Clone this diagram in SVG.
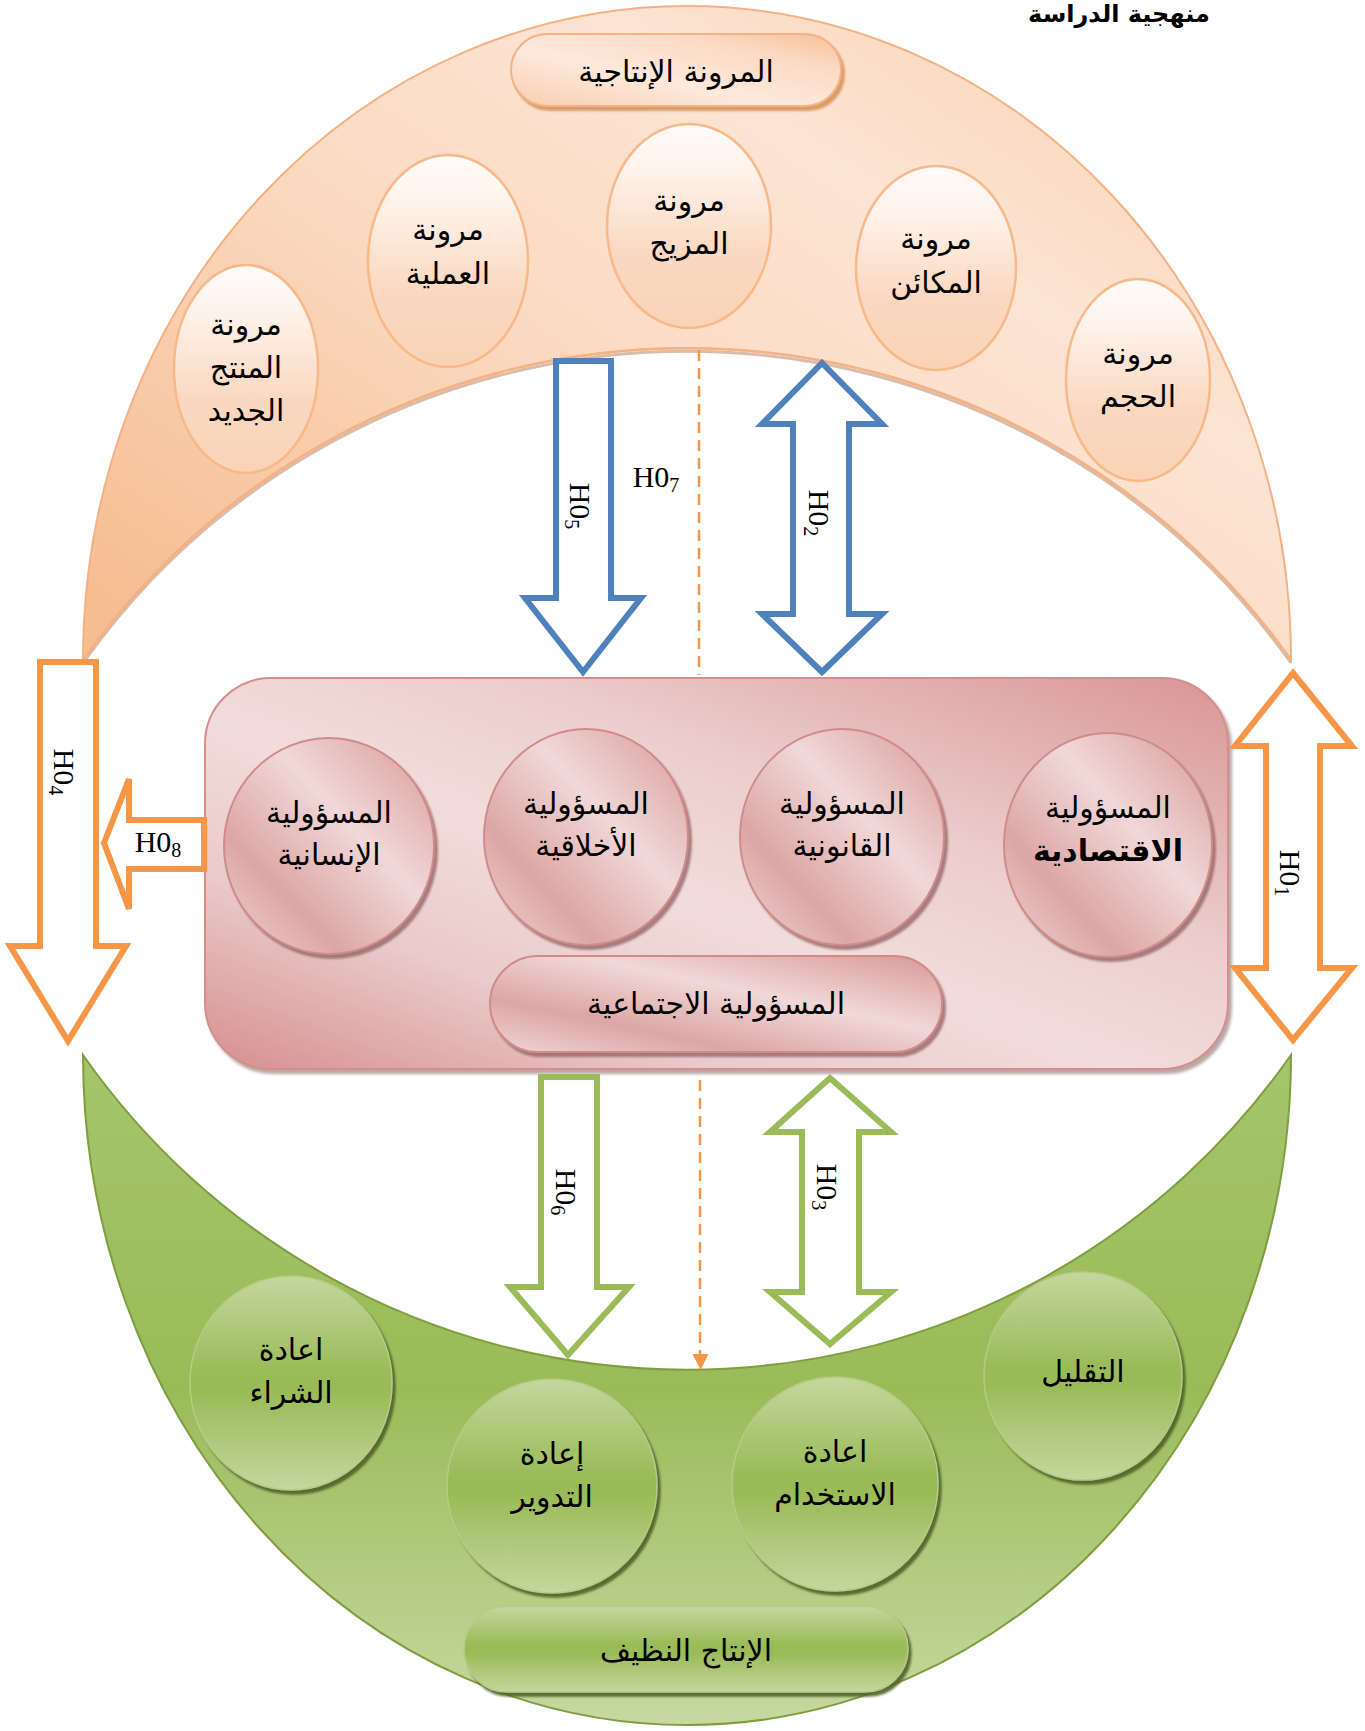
<svg xmlns="http://www.w3.org/2000/svg" width="1365" height="1731" viewBox="0 0 1365 1731">
  <defs>
    <style>
      .ar { font-family: "DejaVu Sans", sans-serif; font-size: 30px; fill: #000; text-anchor: middle; }
      .hl { font-family: "Liberation Serif", "Times New Roman", serif; font-size: 30px; fill: #000; text-anchor: middle; }
      .sub { font-size: 20px; }
      .oval-o { fill: url(#gOval); stroke: #f8b887; stroke-width: 2.5; }
      .disc-p { fill: url(#gDiscP); stroke: #cf8b8a; stroke-width: 2; filter: url(#shP); }
      .disc-g { fill: url(#gDiscG); stroke: #b5cc84; stroke-width: 1.5; filter: url(#shG); }
      .arr-b { fill: #fff; stroke: #4f81bd; stroke-width: 6; stroke-linejoin: miter; }
      .arr-o { fill: #fff; stroke: #f79646; stroke-width: 6; stroke-linejoin: miter; }
      .arr-g { fill: #fff; stroke: #9bbb59; stroke-width: 6; stroke-linejoin: miter; }
      .dash { fill: none; stroke: #f79646; stroke-width: 2.5; stroke-dasharray: 11 7; }
    </style>
    <linearGradient id="gBandTop" x1="0" y1="0.9" x2="1" y2="0.1">
      <stop offset="0" stop-color="#f6bd91"/>
      <stop offset="0.45" stop-color="#fbdbc4"/>
      <stop offset="0.7" stop-color="#fce4d3"/>
      <stop offset="1" stop-color="#f9cfb0"/>
    </linearGradient>
    <linearGradient id="gOval" x1="0" y1="0" x2="0" y2="1">
      <stop offset="0" stop-color="#fffcfa"/>
      <stop offset="0.2" stop-color="#fef4ed"/>
      <stop offset="0.65" stop-color="#fad8c0"/>
      <stop offset="1" stop-color="#f9d3b6"/>
    </linearGradient>
    <linearGradient id="gPillO" x1="0" y1="1" x2="1" y2="0">
      <stop offset="0" stop-color="#f9cdae"/>
      <stop offset="0.4" stop-color="#fde9dc"/>
      <stop offset="0.75" stop-color="#fbdac3"/>
      <stop offset="1" stop-color="#f7bf94"/>
    </linearGradient>
    <linearGradient id="gBox" x1="1" y1="0" x2="0" y2="1">
      <stop offset="0" stop-color="#d99594"/>
      <stop offset="0.35" stop-color="#eccdcd"/>
      <stop offset="0.55" stop-color="#f2dcdb"/>
      <stop offset="0.75" stop-color="#eacaca"/>
      <stop offset="1" stop-color="#d68f8e"/>
    </linearGradient>
    <linearGradient id="gDiscP" x1="1" y1="0" x2="0" y2="1">
      <stop offset="0" stop-color="#d89897"/>
      <stop offset="0.4" stop-color="#f1d8d8"/>
      <stop offset="0.72" stop-color="#dca6a5"/>
      <stop offset="1" stop-color="#f0d6d6"/>
    </linearGradient>
    <linearGradient id="gBandBot" x1="0" y1="0" x2="0" y2="1">
      <stop offset="0" stop-color="#a6c46a"/>
      <stop offset="0.5" stop-color="#9bbb59"/>
      <stop offset="1" stop-color="#c6d9a1"/>
    </linearGradient>
    <linearGradient id="gDiscG" x1="0" y1="0" x2="0" y2="1">
      <stop offset="0" stop-color="#c4d79e"/>
      <stop offset="0.45" stop-color="#9bbb59"/>
      <stop offset="0.55" stop-color="#9bbb59"/>
      <stop offset="1" stop-color="#c4d79e"/>
    </linearGradient>
    <filter id="shP" x="-10%" y="-10%" width="125%" height="125%">
      <feDropShadow dx="3" dy="4" stdDeviation="1.2" flood-color="#8f5f5e" flood-opacity="0.75"/>
    </filter>
    <filter id="shG" x="-10%" y="-10%" width="125%" height="125%">
      <feDropShadow dx="3" dy="4" stdDeviation="1" flood-color="#4f6228" flood-opacity="0.9"/>
    </filter>
    <filter id="shO" x="-10%" y="-20%" width="125%" height="150%">
      <feDropShadow dx="3" dy="4" stdDeviation="1.2" flood-color="#d7955f" flood-opacity="0.9"/>
    </filter>
    <filter id="shBox" x="-5%" y="-5%" width="112%" height="115%">
      <feDropShadow dx="3" dy="4" stdDeviation="1.5" flood-color="#8c6d6d" flood-opacity="0.6"/>
    </filter>
  </defs>

  <rect width="1365" height="1731" fill="#fff"/>

  <!-- heading in the top-right corner -->
  <text x="1119" y="22" text-anchor="middle" font-family="DejaVu Sans, sans-serif" font-size="24" font-weight="bold" fill="#000">منهجية الدراسة</text>

  <!-- upper band: production flexibility -->
  <g id="band-flexibility">
    <path d="M83 660 A604 654 0 0 1 1291 660 A741 741 0 0 0 83 660 Z" fill="url(#gBandTop)" stroke="#f4b183" stroke-width="2"/>
    <path d="M1291 663 A741 741 0 0 0 83 663" fill="none" stroke="#c9a084" stroke-width="3" opacity="0.7"/>
    <path d="M1291 660 A741 741 0 0 0 83 660" fill="none" stroke="#f4b183" stroke-width="2.5"/>
  </g>

  <!-- lower band: cleaner production -->
  <g id="band-cleaner">
    <path d="M83 1055 A604 670 0 0 0 1291 1055 A737 737 0 0 1 83 1055 Z" fill="url(#gBandBot)" stroke="#7f9e3f" stroke-width="2"/>
  </g>

  <!-- central box: social responsibility -->
  <g id="box-responsibility">
    <rect x="205" y="678" width="1023" height="391" rx="66" ry="66" fill="url(#gBox)" stroke="#d48e8d" stroke-width="2" filter="url(#shBox)"/>
  </g>

  <!-- flexibility nodes -->
  <g id="n-prod-flex">
    <rect x="511" y="34" width="330" height="72" rx="36" ry="36" fill="url(#gPillO)" stroke="#f4b183" stroke-width="2" filter="url(#shO)"/>
    <text class="ar" x="676" y="82">المرونة الإنتاجية</text>
  </g>

  <g id="n-new-product">
    <ellipse class="oval-o" cx="246" cy="369" rx="72" ry="104"/>
    <text class="ar" x="246" y="335">مرونة</text>
    <text class="ar" x="246" y="378">المنتج</text>
    <text class="ar" x="246" y="421">الجديد</text>
  </g>
  <g id="n-process">
    <ellipse class="oval-o" cx="448" cy="261" rx="80" ry="106"/>
    <text class="ar" x="448" y="240">مرونة</text>
    <text class="ar" x="448" y="284">العملية</text>
  </g>
  <g id="n-mix">
    <ellipse class="oval-o" cx="689" cy="226" rx="82" ry="102"/>
    <text class="ar" x="689" y="211">مرونة</text>
    <text class="ar" x="689" y="254">المزيج</text>
  </g>
  <g id="n-machines">
    <ellipse class="oval-o" cx="936" cy="268" rx="80" ry="102"/>
    <text class="ar" x="936" y="249">مرونة</text>
    <text class="ar" x="936" y="293">المكائن</text>
  </g>
  <g id="n-volume">
    <ellipse class="oval-o" cx="1138" cy="380" rx="72" ry="101"/>
    <text class="ar" x="1138" y="364">مرونة</text>
    <text class="ar" x="1138" y="407">الحجم</text>
  </g>

  <!-- responsibility nodes -->
  <g id="n-human">
    <ellipse class="disc-p" cx="329" cy="846" rx="105" ry="108"/>
    <text class="ar" x="329" y="823">المسؤولية</text>
    <text class="ar" x="329" y="865">الإنسانية</text>
  </g>
  <g id="n-ethical">
    <ellipse class="disc-p" cx="586" cy="837" rx="102" ry="108"/>
    <text class="ar" x="586" y="814">المسؤولية</text>
    <text class="ar" x="586" y="856">الأخلاقية</text>
  </g>
  <g id="n-legal">
    <ellipse class="disc-p" cx="842" cy="837" rx="102" ry="108"/>
    <text class="ar" x="842" y="814">المسؤولية</text>
    <text class="ar" x="842" y="856">القانونية</text>
  </g>
  <g id="n-economic">
    <ellipse class="disc-p" cx="1108" cy="845" rx="104" ry="112"/>
    <text class="ar" x="1108" y="818">المسؤولية</text>
    <text class="ar" x="1108" y="861" font-weight="bold">الاقتصادية</text>
  </g>
  <g id="n-social">
    <rect class="disc-p" x="490" y="956" width="452" height="96" rx="48" ry="48"/>
    <text class="ar" x="716" y="1014">المسؤولية الاجتماعية</text>
  </g>

  <!-- cleaner production nodes -->
  <g id="n-repurchase">
    <ellipse class="disc-g" cx="291" cy="1383" rx="101" ry="107"/>
    <text class="ar" x="291" y="1360">اعادة</text>
    <text class="ar" x="291" y="1403">الشراء</text>
  </g>
  <g id="n-recycle">
    <ellipse class="disc-g" cx="552" cy="1486" rx="105" ry="107"/>
    <text class="ar" x="552" y="1464">إعادة</text>
    <text class="ar" x="552" y="1507">التدوير</text>
  </g>
  <g id="n-reuse">
    <ellipse class="disc-g" cx="835" cy="1484" rx="103" ry="107"/>
    <text class="ar" x="835" y="1462">اعادة</text>
    <text class="ar" x="835" y="1505">الاستخدام</text>
  </g>
  <g id="n-reduce">
    <ellipse class="disc-g" cx="1083" cy="1376" rx="99" ry="104"/>
    <text class="ar" x="1083" y="1382">التقليل</text>
  </g>
  <g id="n-cleaner">
    <rect class="disc-g" x="464" y="1606" width="444" height="86" rx="43" ry="43"/>
    <text class="ar" x="686" y="1661">الإنتاج النظيف</text>
  </g>

  <!-- hypothesis connectors -->
  <g id="connectors">
    <path class="dash" d="M699 350 V675"/>
    <path class="dash" d="M700 1080 V1356"/>
    <polygon points="692.5,1354 708.5,1354 700.5,1370" fill="#f79646"/>

    <path class="arr-b" d="M556 361 H611 V598 H641 L583 672 L525 598 H556 Z"/>
    <path class="arr-b" d="M822 363 L882 424 H849 V614 H882 L822 672 L762 614 H793 V424 H762 Z"/>
    <path class="arr-o" d="M40 662 H96 V946 H126 L68 1041 L10 946 H40 Z"/>
    <path class="arr-o" d="M104 843 L129 779 V820 H204 V869 H129 V909 Z"/>
    <path class="arr-o" d="M1293 673 L1352 746 H1320 V968 H1352 L1293 1040 L1235 968 H1266 V746 H1235 Z"/>
    <path class="arr-g" d="M541 1077 H597 V1287 H629 L568 1355 L510 1287 H541 Z"/>
    <path class="arr-g" d="M830 1078 L891 1132 H859 V1292 H891 L830 1344 L770 1292 H802 V1132 H770 Z"/>

    <text class="hl" x="656" y="487">H0<tspan class="sub" dy="5">7</tspan></text>
    <text class="hl" x="158" y="852">H0<tspan class="sub" dy="5">8</tspan></text>
    <text class="hl" transform="translate(580 506) rotate(90)" y="10">H0<tspan class="sub" dy="5">5</tspan></text>
    <text class="hl" transform="translate(819 513) rotate(90)" y="10">H0<tspan class="sub" dy="5">2</tspan></text>
    <text class="hl" transform="translate(64 772) rotate(90)" y="10">H0<tspan class="sub" dy="5">4</tspan></text>
    <text class="hl" transform="translate(1290 873) rotate(90)" y="10">H0<tspan class="sub" dy="5">1</tspan></text>
    <text class="hl" transform="translate(566 1192) rotate(90)" y="10">H0<tspan class="sub" dy="5">6</tspan></text>
    <text class="hl" transform="translate(827 1187) rotate(90)" y="10">H0<tspan class="sub" dy="5">3</tspan></text>
  </g>
</svg>
